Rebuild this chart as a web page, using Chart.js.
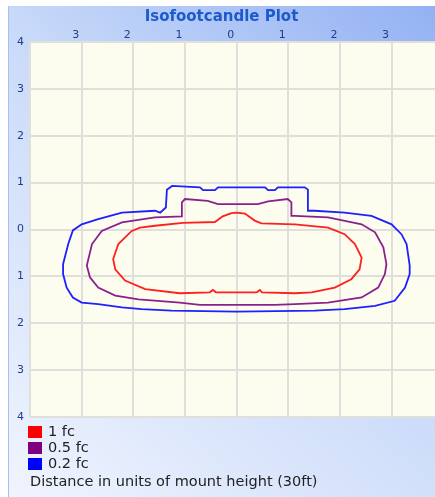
<!DOCTYPE html>
<html>
<head>
<meta charset="utf-8">
<script src="https://cdn.jsdelivr.net/npm/chart.js@4.4.1/dist/chart.umd.min.js"></script>
<style>
  html, body { margin: 0; padding: 0; background: #fff; }
</style>
</head>
<body>
<canvas id="cv" width="435" height="497"></canvas>
<script>
// contour names + colours
const contourLabels = ['1 fc', '0.5 fc', '0.2 fc'];
const contourColors = ['#ff1f1f', '#8a208e', '#1f1fff'];
const legendColors = ['#ff0000', '#800080', '#0000ff'];
const axisNote = 'Distance in units of mount height (30ft)';

// 1 fc contour (units of mount height, + is up)
const fc1X = [0, 0.16, 0.35, 0.48, 1.13, 1.77, 2.09, 2.29, 2.42, 2.38, 2.22, 1.90, 1.45, 1.13, 0.49, 0.45, 0.39, 0, -0.40, -0.46, -0.52, -1.10, -1.77, -2.16, -2.35, -2.39, -2.29, -2.03, -1.87, -1.58, -1.04, -0.42, -0.27, -0.10, 0];
const fc1Y = [0.36, 0.34, 0.19, 0.13, 0.11, 0.04, -0.10, -0.31, -0.60, -0.85, -1.06, -1.24, -1.34, -1.36, -1.34, -1.29, -1.34, -1.34, -1.34, -1.29, -1.34, -1.36, -1.27, -1.09, -0.85, -0.63, -0.31, -0.03, 0.04, 0.08, 0.14, 0.16, 0.28, 0.35, 0.36];

// 0.5 fc contour
const fc05X = [0, 0.41, 0.61, 0.99, 1.06, 1.06, 1.13, 1.77, 2.42, 2.68, 2.84, 2.90, 2.87, 2.74, 2.42, 1.77, 1.13, 0.74, 0, -0.71, -1.10, -1.90, -2.35, -2.68, -2.84, -2.90, -2.80, -2.61, -2.22, -1.58, -1.06, -1.06, -1.00, -0.56, -0.36, 0];
const fc05Y = [0.54, 0.54, 0.60, 0.65, 0.58, 0.29, 0.29, 0.26, 0.11, -0.06, -0.38, -0.74, -0.95, -1.24, -1.45, -1.56, -1.59, -1.61, -1.61, -1.61, -1.56, -1.49, -1.41, -1.24, -1.02, -0.77, -0.31, -0.03, 0.15, 0.26, 0.28, 0.58, 0.65, 0.61, 0.54, 0.54];

// 0.2 fc contour
const fc02X = [0, 0.55, 0.61, 0.74, 0.80, 1.32, 1.38, 1.38, 1.51, 2.09, 2.61, 3.00, 3.19, 3.29, 3.35, 3.35, 3.26, 3.06, 2.68, 2.09, 1.51, 0, -1.26, -1.84, -2.22, -2.68, -3.00, -3.17, -3.29, -3.36, -3.36, -3.26, -3.17, -3.00, -2.68, -2.22, -1.58, -1.48, -1.37, -1.35, -1.25, -0.71, -0.65, -0.42, -0.36, 0];
const fc02Y = [0.90, 0.90, 0.84, 0.84, 0.90, 0.90, 0.85, 0.40, 0.40, 0.36, 0.29, 0.11, -0.10, -0.31, -0.77, -0.95, -1.24, -1.52, -1.63, -1.70, -1.73, -1.75, -1.73, -1.70, -1.66, -1.59, -1.56, -1.45, -1.24, -0.95, -0.74, -0.31, -0.02, 0.11, 0.22, 0.36, 0.40, 0.36, 0.47, 0.85, 0.93, 0.90, 0.84, 0.84, 0.90, 0.90];

const toPts = (xs, ys) => xs.map((x, i) => ({ x: x, y: ys[i] }));
const contours = [toPts(fc1X, fc1Y), toPts(fc05X, fc05Y), toPts(fc02X, fc02Y)];

const gridColor = '#dfdfdb';
const tickColor = '#1f3d8e';

// panel background, white strips, cream plot area
const panelBg = {
  id: 'panelBg',
  beforeDraw(chart) {
    const ctx = chart.ctx;
    const a = chart.chartArea;
    ctx.save();
    ctx.fillStyle = '#fff';
    ctx.fillRect(0, 0, chart.width, chart.height);
    const g = ctx.createLinearGradient(8, chart.height, chart.width, 6);
    g.addColorStop(0, '#f0f4fe');
    g.addColorStop(0.55, '#c9daf9');
    g.addColorStop(1, '#93b1f3');
    ctx.fillStyle = g;
    ctx.fillRect(8, 6, chart.width - 8, chart.height - 6);
    ctx.fillStyle = '#a9bff0';
    ctx.fillRect(8, 6, 1, chart.height - 6);
    ctx.fillStyle = '#fdfdef';
    ctx.fillRect(a.left, a.top, a.right - a.left, a.bottom - a.top);
    ctx.restore();
  }
};

// stacked legend under the plot + the units note
const stackedLegend = {
  id: 'stackedLegend',
  afterDraw(chart) {
    const ctx = chart.ctx;
    ctx.save();
    ctx.font = '14.5px "DejaVu Sans"';
    ctx.textBaseline = 'middle';
    chart.data.datasets.forEach((ds, i) => {
      const y = 432 + i * 16;
      ctx.fillStyle = legendColors[i];
      ctx.fillRect(28, y - 6, 14, 12);
      ctx.fillStyle = '#222';
      ctx.fillText(ds.label, 48, y);
    });
    ctx.fillText(axisNote, 30, 482);
    ctx.restore();
  }
};

new Chart(document.getElementById('cv'), {
  type: 'scatter',
  data: {
    datasets: contours.map((pts, i) => ({
      label: contourLabels[i],
      data: pts,
      showLine: true,
      fill: false,
      tension: 0,
      borderColor: contourColors[i],
      borderWidth: 1.8,
      pointRadius: 0
    }))
  },
  options: {
    responsive: false,
    animation: false,
    devicePixelRatio: 1,
    layout: { padding: { top: 6, left: 8, right: 0, bottom: 80 } },
    plugins: {
      legend: { display: false },
      tooltip: { enabled: false },
      title: {
        display: true,
        text: 'Isofootcandle Plot',
        color: '#1c5bcb',
        font: { family: 'DejaVu Sans', size: 15, weight: 'bold' },
        padding: { top: 2, bottom: 0 }
      }
    },
    scales: {
      x: {
        type: 'linear',
        position: 'top',
        min: -4,
        max: 3.84,
        afterFit(scale) { scale.height = 16; },
        grid: { color: gridColor, lineWidth: 2, drawTicks: false },
        border: { display: true, color: gridColor, width: 2 },
        ticks: {
          stepSize: 1,
          includeBounds: false,
          padding: 0,
          labelOffset: -6,
          color: tickColor,
          font: { family: 'DejaVu Sans', size: 11 },
          callback: v => (v === -4 ? '' : String(Math.abs(v)))
        }
      },
      y: {
        type: 'linear',
        min: -4,
        max: 4,
        afterFit(scale) { scale.width = 22; },
        grid: { color: gridColor, lineWidth: 2, drawTicks: false },
        border: { display: true, color: gridColor, width: 2 },
        ticks: {
          stepSize: 1,
          padding: 6,
          color: tickColor,
          font: { family: 'DejaVu Sans', size: 11 },
          callback: v => String(Math.abs(v))
        }
      }
    }
  },
  plugins: [panelBg, stackedLegend]
});
</script>
</body>
</html>
